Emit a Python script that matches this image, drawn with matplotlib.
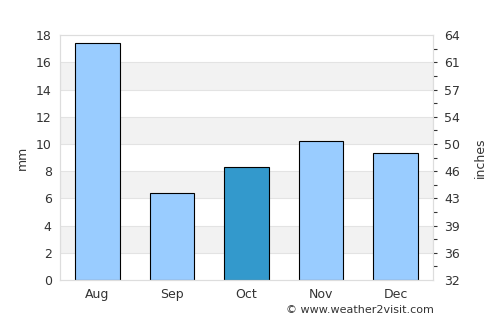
import matplotlib
matplotlib.use("Agg")
import matplotlib.pyplot as plt
import numpy as np

months = ["Aug", "Sep", "Oct", "Nov", "Dec"]
rain_mm = [17.4, 6.4, 8.3, 10.2, 9.3]
highlight = "Oct"
inch_labels = ["32", "36", "39", "43", "46", "50", "54", "57", "61", "64"]

txt = "#333333"
fig = plt.figure(figsize=(5, 3.25), dpi=100)
ax = fig.add_axes([0.12, 0.1385, 0.746, 0.7535])

# alternating bands
for lo in range(2, 18, 4):
    ax.axhspan(lo, lo + 2, color="#f2f2f2", zorder=0, lw=0)
for y in range(2, 18, 2):
    ax.axhline(y, color="#e3e3e3", lw=0.8, zorder=0.5)

x = np.arange(len(months))
colors = ["#3399cc" if m == highlight else "#99ccff" for m in months]
ax.bar(x, rain_mm, width=0.6, color=colors, edgecolor="black", linewidth=0.8, zorder=2)

ax.set_xlim(-0.5, len(months) - 0.5)
ax.set_ylim(0, 18)
ax.set_yticks(range(0, 19, 2))
ax.set_xticks(x)
ax.set_xticklabels(months)
ax.tick_params(axis="both", length=0, colors=txt, labelsize=9, pad=6)
ax.set_ylabel("mm", color=txt, fontsize=9, labelpad=5)
for s in ax.spines.values():
    s.set_color("#dddddd")

ax2 = ax.twinx()
ax2.set_ylim(0, 18)
ax2.set_yticks(range(0, 19, 2))
ax2.set_yticklabels(inch_labels)
ax2.set_yticks(range(1, 18, 2), minor=True)
ax2.tick_params(axis="y", which="major", length=3, width=0.8, colors=txt, labelsize=9, pad=5)
ax2.tick_params(axis="y", which="minor", length=3, width=0.8, colors=txt)
# end ticks are hidden in the original
ticks = ax2.yaxis.get_major_ticks()
for t in (ticks[0], ticks[-1]):
    t.tick2line.set_visible(False)
ax2.set_ylabel("inches", color=txt, fontsize=9, labelpad=10)
for s in ax2.spines.values():
    s.set_color("#dddddd")

fig.text(0.572, 0.038, "\u00a9 www.weather2visit.com", color=txt, fontsize=8)

fig.savefig("out.png", dpi=100)
